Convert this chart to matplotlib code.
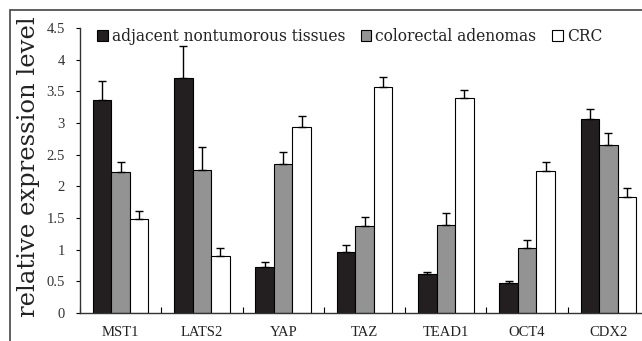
import numpy as np
import matplotlib
matplotlib.use("Agg")
import matplotlib.pyplot as plt
from matplotlib.patches import Rectangle

# values
genes = ["MST1", "LATS2", "YAP", "TAZ", "TEAD1", "OCT4", "CDX2"]
adjacent = [3.36, 3.71, 0.73, 0.97, 0.62, 0.47, 3.06]
adjacent_err = [0.30, 0.51, 0.08, 0.10, 0.03, 0.04, 0.16]
adenoma = [2.22, 2.26, 2.36, 1.38, 1.39, 1.03, 2.65]
adenoma_err = [0.16, 0.36, 0.18, 0.14, 0.19, 0.13, 0.20]
crc = [1.49, 0.90, 2.93, 3.57, 3.39, 2.24, 1.83]
crc_err = [0.12, 0.12, 0.18, 0.16, 0.13, 0.14, 0.14]

series = [
    ("adjacent nontumorous tissues", adjacent, adjacent_err, "#231f20"),
    ("colorectal adenomas", adenoma, adenoma_err, "#939393"),
    ("CRC", crc, crc_err, "white"),
]

W, H = 642, 341
fig = plt.figure(figsize=(W / 100, H / 100), dpi=100)
ax = fig.add_axes([80 / W, (H - 313) / H, 569 / W, 285 / H])

x = np.arange(len(genes))
bw = 0.228
for i, (name, vals, errs, col) in enumerate(series):
    ax.bar(x + (i - 1) * bw, vals, bw, color=col, edgecolor="black",
           linewidth=0.8, label=name,
           yerr=[np.zeros(len(errs)), errs],
           error_kw=dict(ecolor="black", elinewidth=1.0, capsize=3, capthick=1.0))

ax.set_xlim(-0.5, len(genes) - 0.5)
ax.set_ylim(0, 4.5)
ax.set_yticks(np.arange(0, 4.51, 0.5))
ax.set_yticklabels(["0", "0.5", "1", "1.5", "2", "2.5", "3", "3.5", "4", "4.5"],
                   family="Liberation Serif", fontsize=10.5, color="#333333")
ax.tick_params(axis="y", direction="out", length=3, width=0.8, pad=8)

# category ticks sit between groups, labels at centres
ax.set_xticks(np.arange(len(genes) + 1) - 0.5)
ax.set_xticklabels([])
ax.set_xticks(x, minor=True)
ax.set_xticklabels(genes, minor=True, family="Liberation Serif", fontsize=10.5,
                   color="#222222")
ax.tick_params(axis="x", which="major", direction="in", length=4, width=0.8)
ax.tick_params(axis="x", which="minor", length=0, pad=9)

for s in ["top", "right"]:
    ax.spines[s].set_visible(False)
for s in ["left", "bottom"]:
    ax.spines[s].set_linewidth(1.0)
    ax.spines[s].set_color("#333333")

ax.set_ylabel("relative expression level", family="DejaVu Serif",
              fontsize=17.5, color="#222222")
ax.yaxis.set_label_coords(-40 / 569, 0.515)

leg = ax.legend(loc="upper left", bbox_to_anchor=(0.005, 1.05), ncol=3,
                frameon=False, handlelength=0.7, handleheight=0.7,
                handletextpad=0.25, columnspacing=1.0,
                prop={"family": "DejaVu Serif", "size": 11.2})
for t in leg.get_texts():
    t.set_color("#222222")

# outer frame of the original figure
fig.patches.append(Rectangle((10 / W, -0.1), 1.2, (H - 10) / H + 0.1,
                             transform=fig.transFigure, fill=False,
                             edgecolor="#444444", linewidth=1.2))

fig.savefig("out.png", dpi=100)
